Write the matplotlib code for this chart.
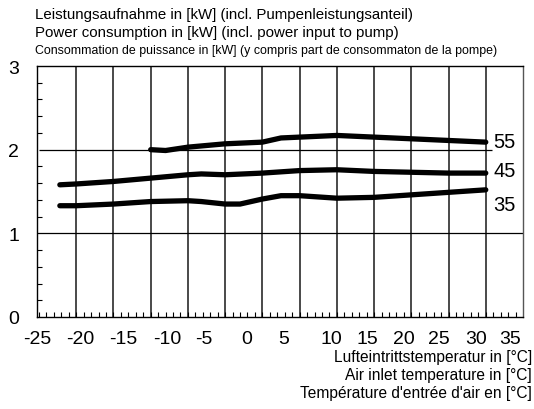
import numpy as np
import matplotlib.pyplot as plt

plt.rcParams['font.family'] = ['Liberation Sans', 'DejaVu Sans']

# air inlet temperature [°C] and power consumption [kW] per flow temperature
t_low = [-22.2, -20, -15, -10, -5, -3.2, 0, 2, 5, 7.5, 10, 15, 20, 25, 30, 35]
p_35 = [1.33, 1.33, 1.35, 1.38, 1.39, 1.38, 1.35, 1.35, 1.41, 1.45, 1.45, 1.42, 1.43, 1.46, 1.49, 1.52]

t_45 = [-22.2, -20, -15, -10, -5, -3.2, 0, 5, 10, 15, 20, 25, 30, 35]
p_45 = [1.58, 1.59, 1.62, 1.66, 1.70, 1.71, 1.70, 1.72, 1.75, 1.76, 1.74, 1.73, 1.72, 1.72]

t_55 = [-10, -8, -5, 0, 5, 7.5, 10, 15, 20, 25, 30, 35]
p_55 = [2.00, 1.99, 2.03, 2.07, 2.09, 2.14, 2.15, 2.17, 2.15, 2.13, 2.11, 2.09]

curve_labels = ["55", "45", "35"]
xtick_labels = ["-25", "-20", "-15", "-10", "-5", "0", "5", "10", "15", "20", "25", "30", "35"]
# label centres as they sit in the original (not evenly spaced), in pixels
xtick_px = [35, 78.5, 122, 166, 203, 246, 283, 331, 367, 403, 439, 476, 510]

W, H = 534, 410
x0, x1, ytop, ybot = 37, 523, 67, 318


def px_to_t(px):
    return -25 + (px - x0) * 65 / (x1 - x0)


fig = plt.figure(figsize=(W / 100, H / 100), dpi=100)
ax = fig.add_axes([x0 / W, 1 - ybot / H, (x1 - x0) / W, (ybot - ytop) / H])
ax.set_xlim(-25, 40)
ax.set_ylim(0, 3)

for t in range(-20, 40, 5):
    ax.axvline(t, color='#3a3a3a', lw=1.3, zorder=1)
ax.axhline(1, color='black', lw=0.9, zorder=1)
ax.hlines(2, -25, px_to_t(492), color='black', lw=0.9, zorder=1)

for t, p in [(t_55, p_55), (t_45, p_45), (t_low, p_35)]:
    ax.plot(t, p, color='black', lw=3.8, solid_capstyle='round', solid_joinstyle='round', zorder=3)

for lab, yv in zip(curve_labels, [2.10, 1.75, 1.35]):
    ax.text(px_to_t(493), yv, lab, fontsize=14.5, va='center', ha='left')

ax.set_xticks([px_to_t(p) for p in xtick_px])
ax.set_xticklabels(xtick_labels, fontsize=14)
ax.set_xticks(np.arange(-25, 40, 1), minor=True)
ax.set_yticks([0, 1, 2, 3])
ax.set_yticklabels(["0", "1", "2", "3"], fontsize=14)
ax.set_yticks(np.arange(0, 3, 0.2), minor=True)
ax.tick_params(axis='x', which='major', length=0, pad=9)
ax.tick_params(axis='y', which='major', length=0, pad=13)
ax.tick_params(which='minor', direction='in', length=3.5, width=0.8)
ax.tick_params(axis='x', which='minor', top=False)
for s in ax.spines.values():
    s.set_linewidth(1.0)
ax.spines['right'].set_color('#555555')

fig.text(35 / W, 1 - 15 / H, "Leistungsaufnahme in [kW] (incl. Pumpenleistungsanteil)", fontsize=10.8, va='center')
fig.text(35 / W, 1 - 33 / H, "Power consumption in [kW] (incl. power input to pump)", fontsize=10.8, va='center')
fig.text(35 / W, 1 - 51 / H, "Consommation de puissance in [kW] (y compris part de consommaton de la pompe)",
         fontsize=8.9, va='center')

fig.text(532 / W, 1 - 358 / H, "Lufteintrittstemperatur in [°C]", fontsize=11.2, ha='right', va='center')
fig.text(532 / W, 1 - 376 / H, "Air inlet temperature in [°C]", fontsize=11.2, ha='right', va='center')
fig.text(532 / W, 1 - 394 / H, "Température d'entrée d'air en [°C]", fontsize=11.2, ha='right', va='center')

fig.savefig("out.png", dpi=100)
